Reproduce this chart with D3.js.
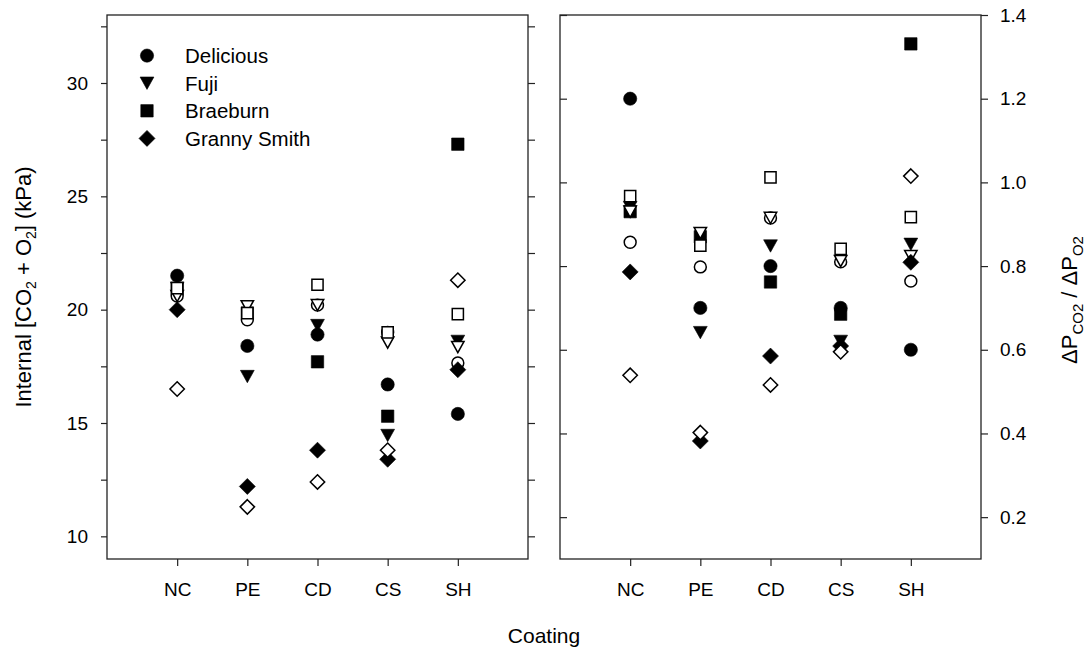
<!DOCTYPE html>
<html><head><meta charset="utf-8">
<script src="https://cdn.jsdelivr.net/npm/d3@7"></script>
<style>
body{margin:0;background:#fff}
text{font-family:'Liberation Sans',Arial,Helvetica,sans-serif;fill:#000}
</style>
</head><body>
<svg id="c" width="1092" height="655"></svg>
<script>
// ---------- data ----------
const categories = ["NC", "PE", "CD", "CS", "SH"];
const leftTicksMajor = [10, 15, 20, 25, 30];
const leftTicksMinor = [12.5, 17.5, 22.5, 27.5, 32.5];
const rightTicks = [0.2, 0.4, 0.6, 0.8, 1.0, 1.2, 1.4];
const cultivars = ["Delicious", "Fuji", "Braeburn", "Granny Smith"];

// Left panel: internal [CO2 + O2] (kPa)
const deliciousFilledL = [21.5, 18.4, 18.9, 16.7, 15.4];
const deliciousOpenL   = [20.6, 19.55, 20.2, 19.0, 17.65];
const fujiFilledL      = [20.95, 17.05, 19.3, 14.45, 18.6];
const fujiOpenL        = [20.6, 20.15, 20.2, 18.55, 18.35];
const braeburnFilledL  = [20.9, 19.85, 17.7, 15.3, 27.3];
const braeburnOpenL    = [20.95, 19.85, 21.1, 19.0, 19.8];
const grannyFilledL    = [20.0, 12.2, 13.8, 13.4, 17.35];
const grannyOpenL      = [16.5, 11.3, 12.4, 13.8, 21.3];

// Right panel: dPCO2 / dPO2
const deliciousFilledR = [1.2, 0.70, 0.80, 0.70, 0.60];
const deliciousOpenR   = [0.857, 0.798, 0.915, 0.81, 0.764];
const fujiFilledR      = [0.94, 0.641, 0.848, 0.62, 0.852];
const fujiOpenR        = [0.93, 0.879, 0.915, 0.812, 0.824];
const braeburnFilledR  = [0.93, 0.87, 0.762, 0.685, 1.331];
const braeburnOpenR    = [0.967, 0.849, 1.012, 0.841, 0.917];
const grannyFilledR    = [0.786, 0.382, 0.585, 0.609, 0.809];
const grannyOpenR      = [0.539, 0.402, 0.516, 0.595, 1.015];

// drawing order (later on top)
const series = [
  {name:"Fuji", shape:"triangle", filled:true,  left:fujiFilledL, right:fujiFilledR},
  {name:"Braeburn", shape:"square", filled:true, left:braeburnFilledL, right:braeburnFilledR},
  {name:"Delicious", shape:"circle", filled:true, left:deliciousFilledL, right:deliciousFilledR},
  {name:"Delicious", shape:"circle", filled:false, left:deliciousOpenL, right:deliciousOpenR},
  {name:"Fuji", shape:"triangle", filled:false, left:fujiOpenL, right:fujiOpenR},
  {name:"Braeburn", shape:"square", filled:false, left:braeburnOpenL, right:braeburnOpenR},
  {name:"Granny Smith", shape:"diamond", filled:true, left:grannyFilledL, right:grannyFilledR},
  {name:"Granny Smith", shape:"diamond", filled:false, left:grannyOpenL, right:grannyOpenR}
];
const legendShapes = ["circle", "triangle", "square", "diamond"];

// ---------- layout ----------
const svg = d3.select("#c");
const yTop = 15, yBot = 559;
const FONT_TICK = 19;

const xL = d3.scalePoint().domain(categories).range([107, 528]).padding(1);
const xR = d3.scalePoint().domain(categories).range([560, 981]).padding(1);
const yL = d3.scaleLinear().domain([9, 33]).range([yBot, yTop]);
const yR = d3.scaleLinear().domain([0.1, 1.4]).range([yBot, yTop]);

function shapePath(shape, open) {
  const s = open ? 0.9 : 1;
  if (shape === "circle") { const r = 6.6*s; return `M${-r},0A${r},${r} 0 1,0 ${r},0A${r},${r} 0 1,0 ${-r},0Z`; }
  if (shape === "square") { const h = 6.2*s; return `M${-h},${-h}H${h}V${h}H${-h}Z`; }
  if (shape === "triangle") { const w = 6.9*s, h = 6.2*s; return `M${-w},${-h}H${w}L0,${h}Z`; }
  if (shape === "diamond") { const d = 8*s; return `M0,${-d}L${d},0L0,${d}L${-d},0Z`; }
}

function styleAxis(g) {
  g.select(".domain").remove();
  g.selectAll(".tick line").attr("stroke", "#222").attr("stroke-width", 1.2);
  g.selectAll(".tick text").attr("font-size", FONT_TICK).attr("font-family", "'Liberation Sans',Arial,sans-serif").attr("fill", "#000");
}

function panel(x, y, key, leftLabels) {
  const [x0, x1] = x.range();
  // frame
  svg.append("rect").attr("x", x0).attr("y", yTop).attr("width", x1 - x0).attr("height", yBot - yTop)
    .attr("fill", "none").attr("stroke", "#222").attr("stroke-width", 1.3);
  // bottom axis
  svg.append("g").attr("transform", `translate(0,${yBot})`)
    .call(d3.axisBottom(x).tickSize(7).tickPadding(17)).call(styleAxis);
  // points
  const g = svg.append("g");
  series.forEach(s => {
    g.selectAll(null).data(s[key].map((v, i) => ({c: categories[i], v})))
      .enter().append("path")
      .attr("d", shapePath(s.shape, !s.filled))
      .attr("transform", d => `translate(${x(d.c)},${y(d.v)})`)
      .attr("fill", s.filled ? "#000" : "#fff")
      .attr("stroke", "#000")
      .attr("stroke-width", s.filled ? 0.6 : 1.5);
  });
}

// left panel
panel(xL, yL, "left");
const leftAll = leftTicksMajor.concat(leftTicksMinor).sort((a,b)=>a-b);
svg.append("g").attr("transform", `translate(107,0)`)
  .call(d3.axisLeft(yL).tickValues(leftAll).tickSize(6).tickPadding(13)
    .tickFormat(d => leftTicksMajor.includes(d) ? d3.format("d")(d) : ""))
  .call(styleAxis);
svg.append("g").attr("transform", `translate(528,0)`)
  .call(d3.axisLeft(yL).tickValues(leftAll).tickSize(-7).tickFormat(""))
  .call(styleAxis);

// right panel
panel(xR, yR, "right");
svg.append("g").attr("transform", `translate(560,0)`)
  .call(d3.axisRight(yR).tickValues(rightTicks).tickSize(7).tickFormat(""))
  .call(styleAxis);
svg.append("g").attr("transform", `translate(981,0)`)
  .call(d3.axisRight(yR).tickValues(rightTicks).tickSize(7).tickPadding(12).tickFormat(d3.format(".1f")))
  .call(styleAxis);

// legend
const legend = svg.append("g");
cultivars.forEach((name, i) => {
  const ly = 55.6 + i * 27.6;
  legend.append("path").attr("d", shapePath(legendShapes[i], false))
    .attr("transform", `translate(147,${ly})`).attr("fill", "#000").attr("stroke", "#000").attr("stroke-width", 0.6);
  legend.append("text").attr("x", 185).attr("y", ly + 7.5).attr("font-size", 20.5).text(name);
});

// axis titles
const lt = svg.append("text").attr("transform", "translate(31,287) rotate(-90)")
  .attr("text-anchor", "middle").attr("font-size", 22);
lt.append("tspan").text("Internal [CO");
lt.append("tspan").attr("font-size", 14).attr("dy", 5).text("2");
lt.append("tspan").attr("dy", -5).text(" + O");
lt.append("tspan").attr("font-size", 14).attr("dy", 5).text("2");
lt.append("tspan").attr("dy", -5).text("] (kPa)");

const rt = svg.append("text").attr("transform", "translate(1077,300) rotate(-90)")
  .attr("text-anchor", "middle").attr("font-size", 22);
rt.append("tspan").text("\u0394P");
rt.append("tspan").attr("font-size", 15).attr("dy", 6).text("CO2");
rt.append("tspan").attr("dy", -6).text(" / \u0394P");
rt.append("tspan").attr("font-size", 15).attr("dy", 6).text("O2");

svg.append("text").attr("x", 544).attr("y", 643).attr("text-anchor", "middle")
  .attr("font-size", 21).text("Coating");
</script>
</body></html>
